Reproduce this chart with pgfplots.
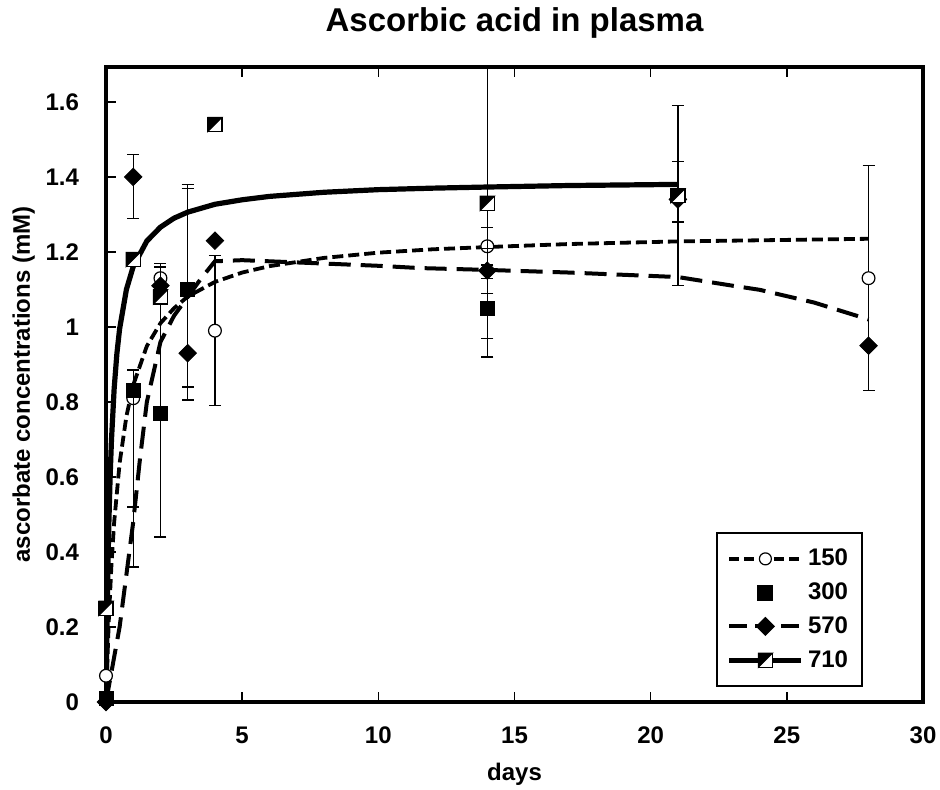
\documentclass[border=0pt]{standalone}
\usepackage{fontspec}
\setmainfont{Liberation Sans}
\usepackage{pgfplots}
\usepackage{pgfplotstable}
\pgfplotsset{compat=1.18}
\usetikzlibrary{plotmarks}

% square split on the diagonal, upper-left half black
\pgfdeclareplotmark{halfsq}{%
  \pgfpathrectangle{\pgfqpoint{-\pgfplotmarksize}{-\pgfplotmarksize}}{\pgfqpoint{2\pgfplotmarksize}{2\pgfplotmarksize}}%
  \pgfsetfillcolor{white}\pgfusepathqfillstroke
  \pgfpathmoveto{\pgfqpoint{-\pgfplotmarksize}{-\pgfplotmarksize}}%
  \pgfpathlineto{\pgfqpoint{\pgfplotmarksize}{\pgfplotmarksize}}%
  \pgfpathlineto{\pgfqpoint{-\pgfplotmarksize}{\pgfplotmarksize}}%
  \pgfpathclose
  \pgfsetfillcolor{black}\pgfusepathqfillstroke
}

% fitted curves
\pgfplotstableread{
x y
0 0
0.1 0.213
0.2 0.366
0.3 0.479
0.5 0.637
0.75 0.762
1 0.845
1.5 0.949
2 1.010
2.5 1.050
3 1.081
4 1.120
5 1.145
6 1.162
8 1.184
10 1.198
12 1.207
14 1.213
17 1.221
21 1.228
24 1.231
28 1.235
}\fitA

\pgfplotstableread{
x y
0 0
0.5 0.20
1 0.48
1.25 0.65
1.5 0.80
2 0.96
2.5 1.03
3 1.08
3.5 1.13
4 1.175
5 1.178
7 1.172
10 1.163
11.5 1.157
14 1.152
17 1.145
21 1.133
23 1.110
24 1.099
26 1.065
28 1.020
}\fitC

\pgfplotstableread{
x y
0 0
0.03 0.182
0.06 0.321
0.1 0.464
0.15 0.597
0.2 0.697
0.3 0.836
0.4 0.929
0.5 0.995
0.75 1.100
1 1.161
1.5 1.229
2 1.266
2.5 1.290
3 1.306
4 1.327
5 1.339
6 1.348
8 1.359
10 1.366
12 1.370
14 1.373
17 1.377
21 1.380
}\fitD

% measured points: x y error+ error-
\pgfplotstableread{
x y ep em
0 0.07 0 0
1 0.81 0 0.45
2 1.13 0.04 0
4 0.99 0.20 0.20
14 1.215 0.05 0.05
28 1.13 0.30 0.30
}\ptsA

\pgfplotstableread{
x y ep em
0 0.01 0 0
1 0.83 0.055 0.31
2 0.77 0.33 0.33
3 1.10 0.28 0.26
14 1.05 0.08 0.08
}\ptsB

\pgfplotstableread{
x y ep em
0 0.0 0 0
1 1.40 0.06 0.11
2 1.11 0.05 0.05
3 0.93 0.44 0.125
4 1.23 0 0
14 1.15 0.06 0.06
21 1.34 0.10 0.06
28 0.95 0 0
}\ptsC

\pgfplotstableread{
x y ep em
0 0.25 0 0
1 1.18 0 0
2 1.08 0 0
4 1.54 0 0
14 1.33 0.41 0.41
21 1.35 0.24 0.24
}\ptsD

\begin{document}
\begin{tikzpicture}
\begin{axis}[
  name=ax,
  width=408.5pt, height=317.5pt, scale only axis,
  xmin=0, xmax=30, ymin=0, ymax=1.693,
  xtick={0,5,10,15,20,25,30},
  ytick={0,0.2,0.4,0.6,0.8,1,1.2,1.4,1.6},
  xtick pos=both, ytick pos=left,
  tick align=inside, major tick length=5pt,
  tick style={line width=0.8pt, black},
  axis line style={line width=2pt},
  /pgf/number format/assume math mode=true,
  tick label style={font=\bfseries\fontsize{12}{14}\selectfont},
  xticklabel style={yshift=-9pt},
  yticklabel style={xshift=-10pt},
  title={Ascorbic acid in plasma},
  title style={at={(axis description cs:0.5,1)}, anchor=base, yshift=11.5pt,
    font=\bfseries\fontsize{16.5}{19}\selectfont},
  xlabel={days},
  xlabel style={at={(axis description cs:0.5,0)}, anchor=base, yshift=-39pt,
    font=\bfseries\fontsize{12}{14}\selectfont},
  ylabel={ascorbate concentrations (mM)},
  ylabel style={at={([xshift=-38pt]axis description cs:0,0.5)}, anchor=base,
    font=\bfseries\fontsize{12}{14}\selectfont},
  clip mode=individual,
  legend style={at={(0.9266,0.0236)}, anchor=south east, draw=black,
    line width=1pt, font=\bfseries\fontsize{12}{14}\selectfont,
    row sep=3pt, inner xsep=5pt, inner ysep=6pt},
  legend cell align=left,
  legend image code/.code={\draw[mark repeat=2, mark phase=2]
    plot coordinates {(0pt,0pt) (18pt,0pt) (36pt,0pt)};},
]
% curves
\addplot[forget plot, black, line width=1.9pt, dash pattern=on 5.5pt off 2.5pt] table {\fitA};
\addplot[forget plot, black, line width=2pt, dash pattern=on 11pt off 5pt] table {\fitC};
\addplot[forget plot, black, line width=2.6pt] table {\fitD};

% points with error bars
\pgfplotsset{errs/.style={
  error bars/.cd, y dir=both, y explicit,
  error bar style={line width=0.6pt, black},
  error mark options={rotate=90, mark size=3pt, line width=0.6pt, black}}}
\addplot[forget plot, only marks, mark=*, mark size=3.2pt,
  mark options={fill=white, draw=black, line width=0.6pt}, errs]
  table[x=x, y=y, y error plus=ep, y error minus=em] {\ptsA};
\addplot[forget plot, only marks, mark=square*, mark size=3.5pt,
  mark options={fill=black, draw=black}, errs]
  table[x=x, y=y, y error plus=ep, y error minus=em] {\ptsB};
\addplot[forget plot, only marks, mark=square*, mark size=3.1pt,
  mark options={fill=black, draw=black, rotate=45}, errs]
  table[x=x, y=y, y error plus=ep, y error minus=em] {\ptsC};
\addplot[forget plot, only marks, mark=halfsq, mark size=3.5pt,
  mark options={draw=black, line width=0.6pt}, errs]
  table[x=x, y=y, y error plus=ep, y error minus=em] {\ptsD};

% legend
\addlegendimage{black, line width=1.9pt, dash pattern=on 5pt off 2.5pt,
  mark=*, mark size=3pt, mark options={solid, fill=white, line width=0.6pt}}
\addlegendentry{150}
\addlegendimage{black, only marks, mark=square*, mark size=3.5pt}
\addlegendentry{300}
\addlegendimage{black, line width=2pt, dash pattern=on 9pt off 4pt,
  mark=square*, mark size=3.1pt, mark options={solid, rotate=45, line width=0.6pt}}
\addlegendentry{570}
\addlegendimage{black, line width=2.6pt,
  mark=halfsq, mark size=3.5pt, mark options={line width=0.6pt}}
\addlegendentry{710}
\end{axis}
\pgfresetboundingbox
\path ([xshift=-53pt,yshift=-43.5pt]ax.south west) rectangle ([xshift=8.5pt,yshift=33.5pt]ax.north east);
\end{tikzpicture}
\end{document}
